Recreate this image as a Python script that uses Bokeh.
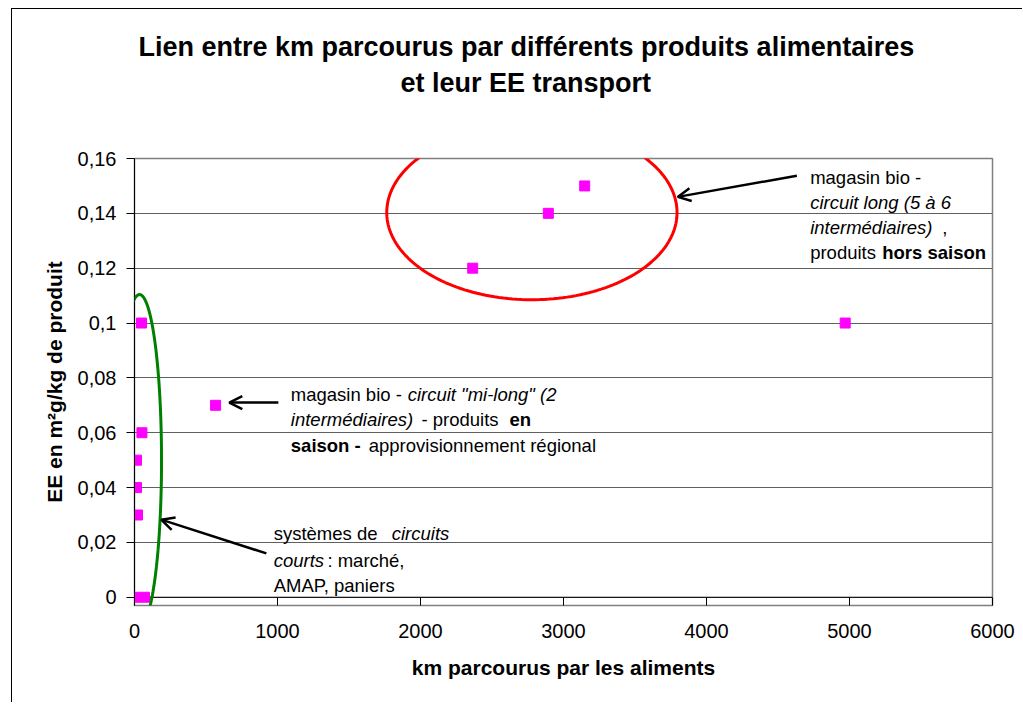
import numpy as np
from bokeh.plotting import figure
from bokeh.models import (Range1d, FixedTicker, Label, Arrow, OpenHead, PolyAnnotation,
                          Title, Span)
from bokeh.embed import file_html
from bokeh.resources import INLINE

# ---- data ----
km = [0, 70, 49, 52, 14, 14, 21, 567, 2365, 2894, 3148, 4970]
ee = [0, 0, 0.10, 0.06, 0.05, 0.04, 0.03, 0.07, 0.12, 0.14, 0.15, 0.10]

x_ticks = [0, 1000, 2000, 3000, 4000, 5000, 6000]
x_tick_labels = ["0", "1000", "2000", "3000", "4000", "5000", "6000"]
y_ticks = [0, 0.02, 0.04, 0.06, 0.08, 0.10, 0.12, 0.14, 0.16]
y_tick_labels = ["0", "0,02", "0,04", "0,06", "0,08", "0,1", "0,12", "0,14", "0,16"]

title_lines = ["Lien entre km parcourus par différents produits alimentaires",
               "et leur EE transport"]
x_title = "km parcourus par les aliments"
y_title = "EE en m²g/kg de produit"

FONT = "Liberation Sans"

p = figure(width=1011, height=694,
           x_range=Range1d(0, 6000), y_range=Range1d(-0.003, 0.16),
           output_backend="svg", toolbar_location=None,
           min_border_left=122, min_border_right=31,
           min_border_top=149, min_border_bottom=98,
           background_fill_color="white", border_fill_color="white")
p.styles = {"margin-left": "11px", "margin-top": "8px",
            "border-left": "1px solid black", "border-top": "1px solid black"}

p.outline_line_color = "#808080"
p.outline_line_width = 1.5

# title (two lines, stacked above the frame, with a spacer next to the frame)
p.title.visible = False
p.add_layout(Title(text=" ", text_font_size="1px", standoff=58), "above")
for txt, so, off in zip(reversed(title_lines), [0, 8], [266, 4]):
    p.add_layout(Title(text=txt, align="left", offset=off,
                       text_font=FONT, text_font_style="bold", text_font_size="27px",
                       text_color="black", standoff=so), "above")

# axes
p.xaxis.ticker = FixedTicker(ticks=x_ticks)
p.xaxis.major_label_overrides = {t: l for t, l in zip(x_ticks, x_tick_labels)}
p.yaxis.ticker = FixedTicker(ticks=y_ticks)
p.yaxis.major_label_overrides = {t: l for t, l in zip(y_ticks, y_tick_labels)}
for ax in (p.xaxis[0], p.yaxis[0]):
    ax.minor_tick_line_color = None
    ax.major_tick_in = 0
    ax.major_tick_out = 7
    ax.axis_line_color = "black"
    ax.major_tick_line_color = "black"
    ax.major_label_text_font = FONT
    ax.major_label_text_font_size = "20px"
    ax.major_label_text_color = "black"
    ax.axis_label_text_font = FONT
    ax.axis_label_text_font_style = "bold"
    ax.axis_label_text_font_size = "21px"
    ax.axis_label_text_color = "black"
p.xaxis.axis_line_color = None
p.xaxis.major_tick_in = 8
p.xaxis.major_tick_out = 0
p.xaxis.major_label_standoff = 18
p.yaxis.major_label_standoff = 10
p.yaxis.major_tick_out = 8
p.xaxis.axis_label = x_title
p.yaxis.axis_label = y_title
p.xaxis.axis_label_standoff = 15
p.yaxis.axis_label_standoff = 9

p.xgrid.visible = False
p.ygrid.ticker = FixedTicker(ticks=y_ticks)
p.ygrid.grid_line_color = "#606060"
p.ygrid.grid_line_width = 1

# x axis line at y = 0
p.add_layout(Span(location=0, dimension="width", line_color="black", line_width=1.2,
                  level="underlay"))

# ellipses (annotations)
t = np.linspace(0, 2 * np.pi, 200)
red = PolyAnnotation(xs=list(2779 + 1015 * np.cos(t)), ys=list(0.1403 + 0.0318 * np.sin(t)),
                     fill_alpha=0, line_color="#ff0000", line_alpha=1, line_width=3)
green = PolyAnnotation(xs=list(35 + 154 * np.cos(t)), ys=list(0.0499 + 0.0605 * np.sin(t)),
                       fill_alpha=0, line_color="#008000", line_alpha=1, line_width=3)
p.add_layout(red)
p.add_layout(green)

# data points
p.scatter(km, ee, marker="square", size=10, fill_color="#ff00ff", line_color="#ff00ff")

# arrows
for xs, ys, xe, ye in [(4632, 0.1537, 3799, 0.1460),
                       (1006, 0.0710, 663, 0.0710),
                       (922, 0.0160, 187, 0.0283)]:
    p.add_layout(Arrow(end=OpenHead(size=13, line_width=2.5, line_color="black"),
                       x_start=xs, y_start=ys, x_end=xe, y_end=ye,
                       line_width=2.5, line_color="black"))

# annotation texts (segments: x, y, text, style)
segments = [
    (4725, 0.1531, "magasin bio -", "normal"),
    (4725, 0.1439, "circuit long (5 à 6", "italic"),
    (4725, 0.1348, "intermédiaires)", "italic"),
    (5649, 0.1348, ",", "normal"),
    (4725, 0.1257, "produits", "normal"),
    (5229, 0.1257, "hors saison", "bold"),
    (1093, 0.0738, "magasin bio -", "normal"),
    (1910, 0.0738, "circuit \"mi-long\" (2", "italic"),
    (1093, 0.0647, "intermédiaires)", "italic"),
    (2007, 0.0647, "- produits", "normal"),
    (2622, 0.0647, "en", "bold"),
    (1093, 0.0555, "saison -", "bold"),
    (1638, 0.0555, "approvisionnement régional", "normal"),
    (973, 0.0234, "systèmes de", "normal"),
    (1799, 0.0234, "circuits", "italic"),
    (973, 0.0135, "courts", "italic"),
    (1349, 0.0135, ": marché,", "normal"),
    (973, 0.0044, "AMAP, paniers", "normal"),
]
for x, y, txt, style in segments:
    p.add_layout(Label(x=x, y=y, text=txt, text_align="left", text_baseline="middle",
                       text_font=FONT, text_font_style=style, text_font_size="18.5px",
                       text_color="black"))

open("out.html", "w").write(file_html(p, INLINE))
